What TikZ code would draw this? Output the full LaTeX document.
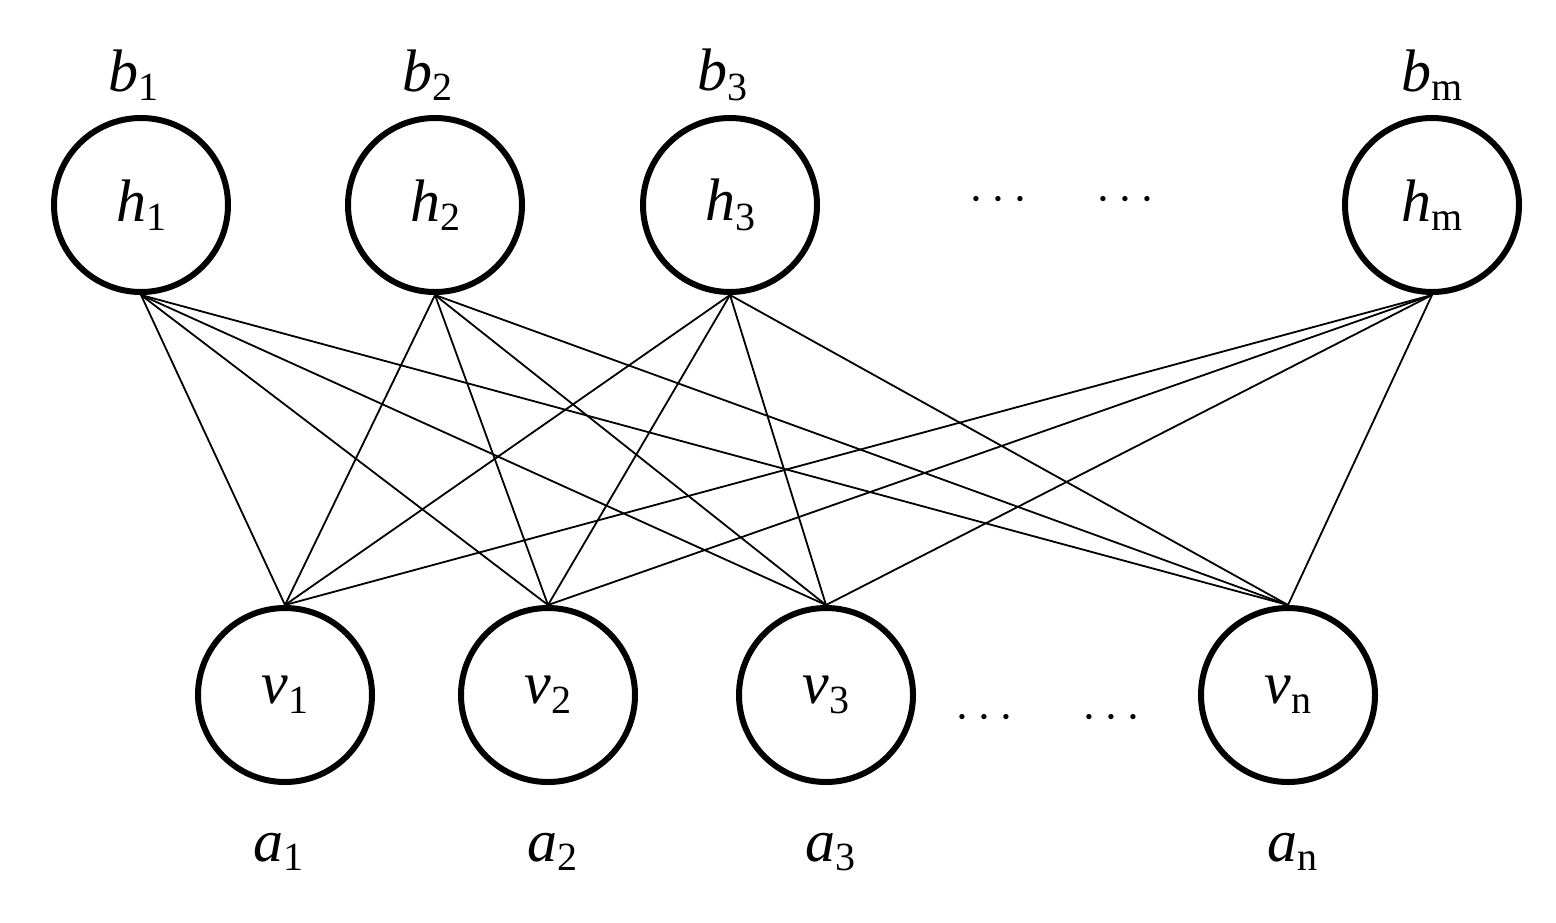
\documentclass[tikz,border=0pt]{standalone}
\usepackage{fontspec}
\setmainfont{Liberation Serif}
\begin{document}
\begin{tikzpicture}[x=0.5pt,y=-0.5pt,
  neuron/.style={circle,draw,line width=3pt,minimum size=87pt,inner sep=0pt,font=\fontsize{30}{36}\selectfont},
  lab/.style={font=\fontsize{30}{36}\selectfont,inner sep=0pt},
  edge/.style={line width=0.9pt}]
\useasboundingbox (0,0) rectangle (1556,922);
\newcommand{\vr}[2]{{\itshape #1}\raisebox{-0.35ex}{\fontsize{20}{24}\selectfont #2}}
\node[neuron] (h1) at (141,205) {\vr{h}{1}};
\node[neuron] (h2) at (435,205) {\vr{h}{2}};
\node[neuron] (h3) at (730,205) {\vr{h}{3}};
\node[neuron] (hm) at (1432,205) {\vr{h}{m}};
\node[neuron] (v1) at (285,695) {\vr{v}{1}};
\node[neuron] (v2) at (548,695) {\vr{v}{2}};
\node[neuron] (v3) at (826,695) {\vr{v}{3}};
\node[neuron] (vn) at (1288,695) {\vr{v}{n}};
\node[lab] (b1) at (133,75) {\vr{b}{1}};
\node[lab] (b2) at (427,75) {\vr{b}{2}};
\node[lab] (b3) at (722,75) {\vr{b}{3}};
\node[lab] (bm) at (1432,75) {\vr{b}{m}};
\node[lab] (a1) at (278,852) {\vr{a}{1}};
\node[lab] (a2) at (552,852) {\vr{a}{2}};
\node[lab] (a3) at (830,852) {\vr{a}{3}};
\node[lab] (an) at (1292,852) {\vr{a}{n}};
\node[lab] (d1) at (1062,200) {$\cdots\quad\cdots$};
\node[lab] (d2) at (1048,718) {$\cdots\quad\cdots$};
\foreach \h in {h1,h2,h3,hm}
  \foreach \v in {v1,v2,v3,vn}
    \draw[edge] (\h.south) -- (\v.north);
\end{tikzpicture}
\end{document}
